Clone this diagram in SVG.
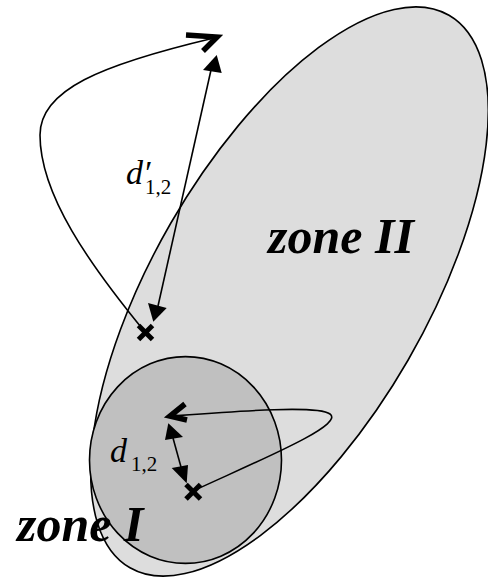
<svg xmlns="http://www.w3.org/2000/svg" width="488" height="580" viewBox="0 0 488 580">
<style>
.zone{stroke:#000;stroke-width:1.6}
.ln{fill:none;stroke:#000;stroke-width:1.6}
.chev{fill:none;stroke:#000;stroke-width:5.5;stroke-linecap:butt;stroke-linejoin:miter}
.head{fill:#000;stroke:none}
.lbl{font-family:"Liberation Serif","Times New Roman",serif;font-style:italic;fill:#000;font-size:34px}
.sub{font-style:normal;font-size:21px}
.zl{font-family:"Liberation Serif","Times New Roman",serif;font-style:italic;font-weight:bold;font-size:50px;fill:#000}
.mk{stroke:#000;stroke-width:5;stroke-linecap:butt}
</style>
<rect width="488" height="580" fill="#fff"/>
<g id="zone2">
<ellipse class="zone" cx="289.5" cy="291.5" rx="319" ry="137" fill="#dddddd" transform="rotate(-60 289.5 291.5)"/>
</g>
<g id="zone1">
<ellipse class="zone" cx="185.5" cy="460" rx="96" ry="103.4" fill="#c0c0c0"/>
</g>
<g id="connectors">
<path class="ln" d="M145,332 C90,265 40,195 40,135 C40,90 100,65 214,38"/>
<polyline class="chev" points="186,35 217,37 203,51"/>
<path class="ln" d="M193,491 C260,460 345,425 330,414 C318,405 240,411 172,416"/>
<polyline class="chev" points="185,404 170,416 187,420"/>
<line class="ln" x1="158" y1="306" x2="211" y2="70"/>
<polygon class="head" points="153.3,321.7 148,303 166.7,308"/>
<polygon class="head" points="216.7,55 203,70 221.7,73"/>
<line class="ln" x1="173" y1="438" x2="181" y2="467"/>
<polygon class="head" points="168.3,423.3 165,440 183,437"/>
<polygon class="head" points="186.7,483.3 171.7,468 188,465"/>
</g>
<g id="marks">
<line class="mk" x1="138.5" y1="325.5" x2="152.5" y2="339.5"/>
<line class="mk" x1="152.5" y1="325.5" x2="138.5" y2="339.5"/>
<line class="mk" x1="186" y1="484.5" x2="200.5" y2="499"/>
<line class="mk" x1="200.5" y1="484.5" x2="186" y2="499"/>
</g>
<g id="labels">
<text class="lbl" x="126" y="184">d′<tspan class="sub" x="145" y="194">1,2</tspan></text>
<text class="lbl" x="110" y="462">d<tspan class="sub" x="131" y="471">1,2</tspan></text>
<text class="zl" x="268" y="253">zone II</text>
<text class="zl" x="17" y="541">zone I</text>
</g>
</svg>
